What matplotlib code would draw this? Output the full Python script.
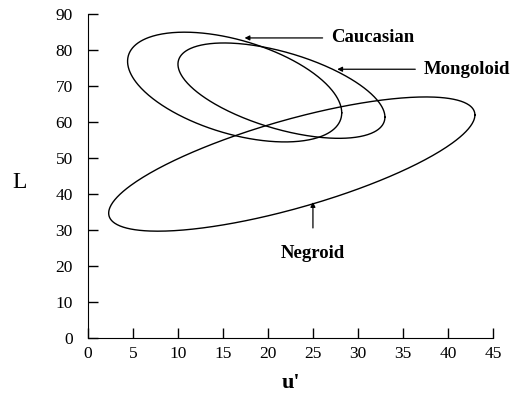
import numpy as np
import matplotlib.pyplot as plt

plt.rcParams['font.family'] = ['Liberation Serif', 'DejaVu Serif']

# ellipse summaries: centre, half-range in u' and L, phase between the two
groups = ["Caucasian", "Mongoloid", "Negroid"]
centre_u = [16.3, 21.5, 22.65]
centre_L = [69.75, 68.75, 48.35]
half_u = [11.9, 11.5, 20.35]
half_L = [15.25, 13.25, 18.65]
phase_deg = [118.0, 123.7, 43.0]

# arrow tips (on the ellipse edge) and label anchors
tip_u = [17.4, 27.7, 25.0]
tip_L = [83.4, 74.7, 37.8]
label_u = [27.0, 37.3, 25.0]
label_L = [83.4, 74.7, 23.6]

fig = plt.figure(figsize=(5.3, 3.94), dpi=100)
ax = fig.add_axes([0.166, 0.142, 0.764, 0.822])

t = np.linspace(0, 2 * np.pi, 400)
for cu, cl, a, b, ph in zip(centre_u, centre_L, half_u, half_L, phase_deg):
    u = cu + a * np.cos(t)
    L = cl + b * np.cos(t - np.radians(ph))
    ax.plot(u, L, color='black', lw=1.0)

for i, name in enumerate(groups):
    if name == "Negroid":
        ax.annotate(name, xy=(tip_u[i], tip_L[i]), xytext=(label_u[i], label_L[i]),
                    ha='center', va='center', fontsize=13.5, fontweight='semibold',
                    arrowprops=dict(arrowstyle='-|>', color='black', lw=0.9,
                                    mutation_scale=7, shrinkA=10, shrinkB=0))
    else:
        ax.annotate(name, xy=(tip_u[i], tip_L[i]), xytext=(label_u[i], label_L[i]),
                    ha='left', va='center', fontsize=13.5, fontweight='semibold',
                    arrowprops=dict(arrowstyle='-|>', color='black', lw=0.9,
                                    mutation_scale=7, shrinkA=4, shrinkB=0))

ax.set_xlim(0, 45)
ax.set_ylim(0, 90)
ax.set_xticks(np.arange(0, 46, 5))
ax.set_yticks(np.arange(0, 91, 10))
ax.spines['top'].set_visible(False)
ax.spines['right'].set_visible(False)
ax.tick_params(axis='y', direction='in', length=7, width=1, pad=11, labelsize=12.5)
ax.tick_params(axis='x', direction='in', length=7, width=1, pad=6, labelsize=12.5)

ax.set_xlabel("u'", fontsize=16, fontweight='semibold', va='center')
ax.xaxis.set_label_coords(0.5, -0.14)
ax.set_ylabel("L", fontsize=17, rotation=0, va='center', ha='center')
ax.yaxis.set_label_coords(-0.168, 0.48)

fig.savefig("out.png", dpi=100)
